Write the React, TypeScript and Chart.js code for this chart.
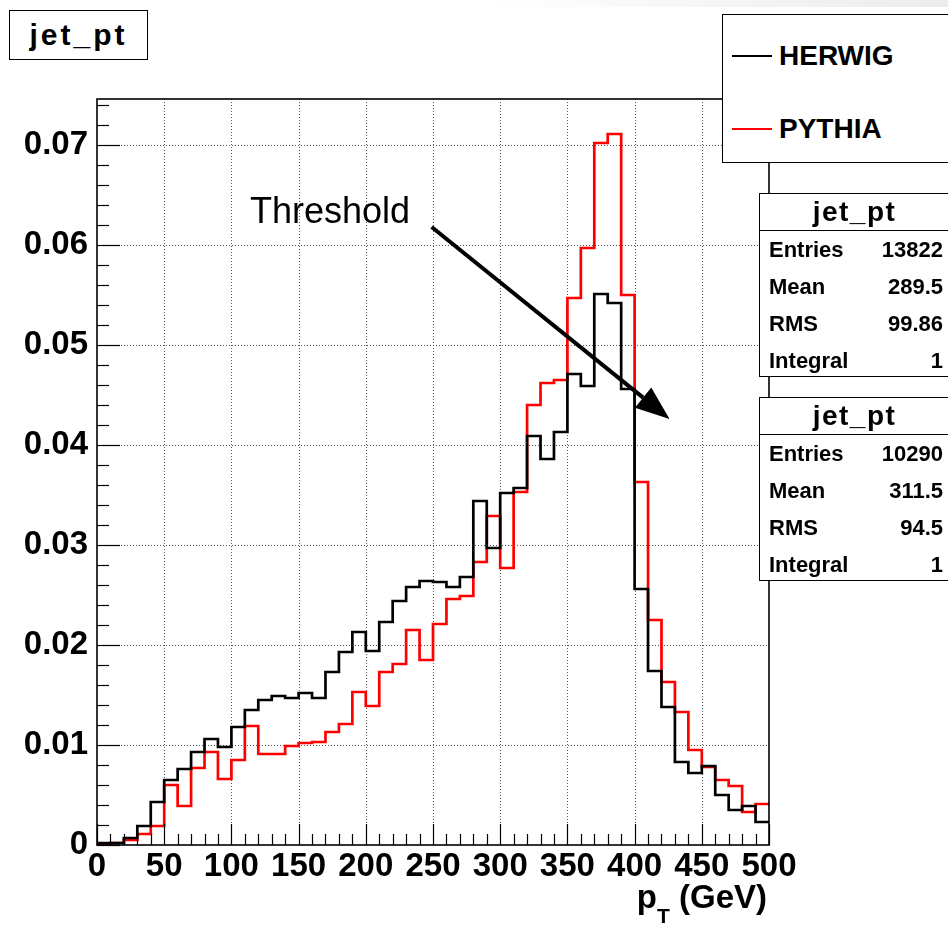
import React, { useEffect, useRef } from 'react';
import { Chart, registerables } from 'chart.js';

Chart.register(...registerables);

// ---------- data ----------
const X_MIN = 0;
const X_MAX = 500;
const BIN_WIDTH = 10;
const Y_MAX = 0.0746;

const HERWIG = [
  0.0002, 0.0002, 0.0007, 0.0019, 0.0043, 0.0065, 0.0076, 0.0093, 0.0106, 0.0098,
  0.0118, 0.0135, 0.0145, 0.0149, 0.0147, 0.0152, 0.0147, 0.0173, 0.0193, 0.0213,
  0.0194, 0.0223, 0.0244, 0.0258, 0.0264, 0.0263, 0.0258, 0.0268, 0.0344, 0.0297,
  0.0352, 0.0357, 0.0409, 0.0386, 0.0413, 0.0471, 0.0459, 0.0551, 0.0542, 0.0456,
  0.0256, 0.0174, 0.0138, 0.0083, 0.0072, 0.0079, 0.0050, 0.0035, 0.0039, 0.0023,
];

const PYTHIA = [
  0.0001, 0.0002, 0.0005, 0.0011, 0.0019, 0.0060, 0.0039, 0.0077, 0.0093, 0.0066,
  0.0085, 0.0119, 0.0091, 0.0091, 0.0099, 0.0102, 0.0103, 0.0113, 0.0121, 0.0153,
  0.0139, 0.0173, 0.0181, 0.0215, 0.0185, 0.0221, 0.0246, 0.0249, 0.0283, 0.0329,
  0.0277, 0.0353, 0.0440, 0.0462, 0.0465, 0.0547, 0.0597, 0.0702, 0.0711, 0.0550,
  0.0363, 0.0225, 0.0163, 0.0133, 0.0095, 0.0078, 0.0065, 0.0059, 0.0033, 0.0041,
];

const X_TICKS = [0, 50, 100, 150, 200, 250, 300, 350, 400, 450, 500];
const Y_TICKS = [0, 0.01, 0.02, 0.03, 0.04, 0.05, 0.06, 0.07];
const Y_TICK_LABELS = ['0', '0.01', '0.02', '0.03', '0.04', '0.05', '0.06', '0.07'];
const X_MINOR_STEP = 10;
const Y_MINOR_STEP = 0.002;

const SERIES_NAMES = ['HERWIG', 'PYTHIA'];
const SERIES_COLORS = ['#000000', '#ff0000'];

const STATS = [
  { title: 'jet_pt', rows: [['Entries', '13822'], ['Mean', '289.5'], ['RMS', '99.86'], ['Integral', '1']] },
  { title: 'jet_pt', rows: [['Entries', '10290'], ['Mean', '311.5'], ['RMS', '94.5'], ['Integral', '1']] },
];

const ANNOTATION_TEXT = 'Threshold';
const ARROW_FROM = { x: 249, y: 0.0618 };
const ARROW_TO = { x: 426, y: 0.0426 };

const FONT = '"Liberation Sans", Arial, Helvetica, sans-serif';

function toSteps(values: number[]) {
  const pts = values.map((v, i) => ({ x: X_MIN + i * BIN_WIDTH, y: v }));
  pts.push({ x: X_MAX, y: values[values.length - 1] });
  return pts;
}

const rootFramePlugin = {
  id: 'rootFrame',
  beforeDatasetsDraw(chart: any) {
    const { ctx, chartArea: a, scales } = chart;
    const xs = scales.x;
    const ys = scales.y;
    ctx.save();
    ctx.strokeStyle = '#555';
    ctx.lineWidth = 1;
    ctx.setLineDash([1, 2]);
    X_TICKS.forEach((v) => {
      if (v <= X_MIN || v >= X_MAX) return;
      const px = Math.round(xs.getPixelForValue(v)) + 0.5;
      ctx.beginPath();
      ctx.moveTo(px, a.top);
      ctx.lineTo(px, a.bottom);
      ctx.stroke();
    });
    Y_TICKS.forEach((v) => {
      if (v <= 0) return;
      const py = Math.round(ys.getPixelForValue(v)) + 0.5;
      ctx.beginPath();
      ctx.moveTo(a.left, py);
      ctx.lineTo(a.right, py);
      ctx.stroke();
    });
    ctx.restore();
  },
  afterDatasetsDraw(chart: any) {
    const { ctx, chartArea: a, scales } = chart;
    const xs = scales.x;
    const ys = scales.y;
    ctx.save();
    ctx.setLineDash([]);
    ctx.strokeStyle = '#000';
    ctx.lineWidth = 1.6;
    ctx.strokeRect(a.left, a.top, a.right - a.left, a.bottom - a.top);

    // x ticks (inward)
    ctx.lineWidth = 1.2;
    for (let v = X_MIN; v <= X_MAX + 1e-9; v += X_MINOR_STEP) {
      const major = X_TICKS.some((t) => Math.abs(t - v) < 1e-6);
      const px = Math.round(xs.getPixelForValue(v)) + 0.5;
      ctx.beginPath();
      ctx.moveTo(px, a.bottom);
      ctx.lineTo(px, a.bottom - (major ? 21 : 11));
      ctx.stroke();
    }
    // y ticks (inward)
    for (let i = 0; i * Y_MINOR_STEP <= Y_MAX + 1e-9; i++) {
      const v = i * Y_MINOR_STEP;
      const major = i % 5 === 0;
      const py = Math.round(ys.getPixelForValue(v)) + 0.5;
      ctx.beginPath();
      ctx.moveTo(a.left, py);
      ctx.lineTo(a.left + (major ? 23 : 12), py);
      ctx.stroke();
    }

    // arrow
    const x1 = xs.getPixelForValue(ARROW_FROM.x);
    const y1 = ys.getPixelForValue(ARROW_FROM.y);
    const x2 = xs.getPixelForValue(ARROW_TO.x);
    const y2 = ys.getPixelForValue(ARROW_TO.y);
    const ang = Math.atan2(y2 - y1, x2 - x1);
    const headLen = 34;
    const headHalf = 13;
    const bx = x2 - headLen * Math.cos(ang);
    const by = y2 - headLen * Math.sin(ang);
    ctx.strokeStyle = '#000';
    ctx.lineWidth = 4;
    ctx.beginPath();
    ctx.moveTo(x1, y1);
    ctx.lineTo(bx, by);
    ctx.stroke();
    ctx.fillStyle = '#000';
    ctx.beginPath();
    ctx.moveTo(x2, y2);
    ctx.lineTo(bx + headHalf * Math.sin(ang), by - headHalf * Math.cos(ang));
    ctx.lineTo(bx - headHalf * Math.sin(ang), by + headHalf * Math.cos(ang));
    ctx.closePath();
    ctx.fill();
    ctx.restore();
  },
};

function baselineTop(baseline: number, size: number) {
  return baseline - 0.8465 * size;
}

function StatsBox({ top, title, rows }: { top: number; title: string; rows: string[][] }) {
  return (
    <div
      style={{
        position: 'absolute', left: 759, top, width: 220, height: 184,
        border: '1px solid #000', background: '#fff', boxSizing: 'border-box',
        fontFamily: FONT, fontWeight: 'bold', color: '#000',
      }}
    >
      <div
        style={{
          position: 'absolute', left: 0, top: 0, width: 189, height: 36,
          borderBottom: '1px solid #000', display: 'flex', alignItems: 'center',
          justifyContent: 'center', fontSize: 28, letterSpacing: 1.5, lineHeight: '36px',
        }}
      >
        {title}
      </div>
      {rows.map((r, i) => (
        <div
          key={i}
          style={{
            position: 'absolute', left: 9, top: 36.5 + i * 37, width: 174, height: 37,
            lineHeight: '37px', fontSize: 22, display: 'flex', justifyContent: 'space-between',
          }}
        >
          <span>{r[0]}</span>
          <span>{r[1]}</span>
        </div>
      ))}
    </div>
  );
}

export default function App() {
  const canvasRef = useRef<HTMLCanvasElement | null>(null);

  useEffect(() => {
    const canvas = canvasRef.current;
    if (!canvas) return;
    const tickFont = { family: FONT, size: 33, weight: 'bold' as const };
    const chart = new Chart(canvas, {
      type: 'line',
      data: {
        datasets: [HERWIG, PYTHIA].map((vals, i) => ({
          label: SERIES_NAMES[i],
          data: toSteps(vals),
          borderColor: SERIES_COLORS[i],
          backgroundColor: SERIES_COLORS[i],
          borderWidth: 2.7,
          pointRadius: 0,
          stepped: true,
          fill: false,
          tension: 0,
        })),
      },
      options: {
        animation: false,
        responsive: false,
        maintainAspectRatio: false,
        devicePixelRatio: 1,
        layout: { padding: { left: 0, top: 99, right: 179, bottom: 0 } },
        plugins: { legend: { display: false }, tooltip: { enabled: false }, title: { display: false } },
        scales: {
          x: {
            type: 'linear',
            min: X_MIN,
            max: X_MAX,
            afterFit: (s: any) => { s.height = 80; },
            afterBuildTicks: (s: any) => { s.ticks = X_TICKS.map((v) => ({ value: v })); },
            grid: { display: false, drawTicks: false },
            border: { display: false },
            ticks: {
              font: tickFont, color: '#000', padding: 2, maxRotation: 0, autoSkip: false,
              callback: (v: any) => String(v),
            },
          },
          y: {
            type: 'linear',
            min: 0,
            max: Y_MAX,
            afterFit: (s: any) => { s.width = 97; },
            afterBuildTicks: (s: any) => { s.ticks = Y_TICKS.map((v) => ({ value: v })); },
            grid: { display: false, drawTicks: false },
            border: { display: false },
            ticks: {
              font: tickFont, color: '#000', padding: 9, autoSkip: false,
              callback: (_v: any, idx: number) => Y_TICK_LABELS[idx],
            },
          },
        },
      },
      plugins: [rootFramePlugin],
    } as any);
    return () => chart.destroy();
  }, []);

  return (
    <div
      style={{
        position: 'absolute', left: 0, top: 0, width: 948, height: 925,
        overflow: 'hidden', background: '#fff', fontFamily: FONT,
      }}
    >
      <canvas ref={canvasRef} width={948} height={925} style={{ position: 'absolute', left: 0, top: 0, width: 948, height: 925 }} />

      {/* faint window shading at the top right */}
      <div
        style={{
          position: 'absolute', left: 480, top: 0, width: 468, height: 7,
          background: 'linear-gradient(to right, rgba(235,235,235,0), #ececec)',
        }}
      />

      {/* title box */}
      <div
        style={{
          position: 'absolute', left: 9, top: 10, width: 139, height: 50,
          border: '1px solid #000', boxSizing: 'border-box', background: '#fff',
          display: 'flex', alignItems: 'center', justifyContent: 'center',
          fontWeight: 'bold', fontSize: 30, letterSpacing: 3, lineHeight: 1, color: '#000',
        }}
      >
        jet_pt
      </div>

      {/* legend */}
      <div
        style={{
          position: 'absolute', left: 722, top: 14, width: 240, height: 149,
          border: '1px solid #000', boxSizing: 'border-box', background: '#fff',
        }}
      >
        {SERIES_NAMES.map((name, i) => (
          <React.Fragment key={name}>
            <div style={{ position: 'absolute', left: 9, top: (i === 0 ? 55 : 128) - 14 - 1, width: 40, height: 2, background: SERIES_COLORS[i] }} />
            <div
              style={{
                position: 'absolute', left: 56, top: baselineTop(i === 0 ? 65 : 138, 28) - 14,
                fontSize: 28, fontWeight: 'bold', lineHeight: 1, color: '#000', whiteSpace: 'nowrap',
              }}
            >
              {name}
            </div>
          </React.Fragment>
        ))}
      </div>

      <StatsBox top={193} title={STATS[0].title} rows={STATS[0].rows} />
      <StatsBox top={397} title={STATS[1].title} rows={STATS[1].rows} />

      {/* annotation */}
      <div
        style={{
          position: 'absolute', left: 250, top: baselineTop(223, 36), fontSize: 36,
          lineHeight: 1, color: '#000', whiteSpace: 'nowrap',
        }}
      >
        {ANNOTATION_TEXT}
      </div>

      {/* x axis title */}
      <div
        style={{
          position: 'absolute', right: 948 - 767, top: baselineTop(908, 33), fontSize: 33,
          fontWeight: 'bold', lineHeight: 1, color: '#000', whiteSpace: 'nowrap',
        }}
      >
        p<span style={{ fontSize: 21, position: 'relative', top: 15 }}>T</span> (GeV)
      </div>
    </div>
  );
}
